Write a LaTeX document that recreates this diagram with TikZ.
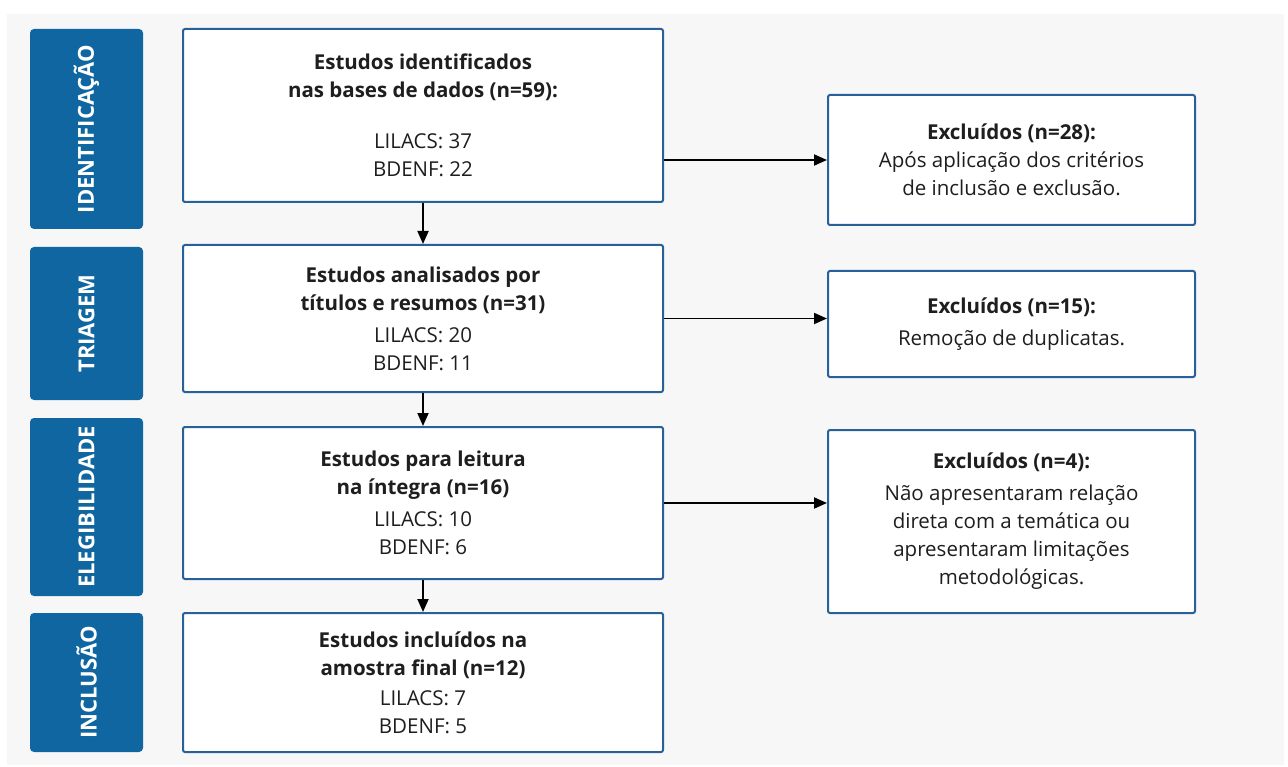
\documentclass[tikz,border=0pt]{standalone}
\usepackage{fontspec}
\setmainfont{Open Sans}
\usepackage{tikz}
\usetikzlibrary{arrows.meta}
\definecolor{barblue}{RGB}{16,102,160}
\definecolor{lineblue}{RGB}{40,96,152}
\definecolor{panel}{RGB}{247,247,247}
\definecolor{ink}{RGB}{30,30,30}

\begin{document}
\begin{tikzpicture}[x=1pt, y=-1pt,
    every node/.style={font=\fontsize{20.5}{28}\selectfont, text=ink, align=center, inner sep=0pt},
    phase/.style={fill=barblue, rounded corners=4pt, minimum height=113pt, text=white, rotate=90, font=\fontsize{22}{26}\selectfont\bfseries},
    mainbox/.style={draw=lineblue, line width=2pt, fill=white, rounded corners=2pt, minimum width=480pt},
    exbox/.style={draw=lineblue, line width=2pt, fill=white, rounded corners=2pt, minimum width=367pt},
    arr/.style={line width=1.8pt, -{Triangle[length=13pt, width=11pt]}}]
        \useasboundingbox (0,0) rectangle (1288,767);
        \fill[panel] (7,14) rectangle (1284,765);
        \node[phase, minimum width=200pt] (b1) at (86.5,129) {IDENTIFICAÇÃO};
        \node[phase, minimum width=153pt] (b2) at (86.5,323.5) {TRIAGEM};
        \node[phase, minimum width=178pt] (b3) at (86.5,507) {ELEGIBILIDADE};
        \node[phase, minimum width=139pt] (b4) at (86.5,682.5) {INCLUSÃO};
        \node[mainbox, minimum height=173pt] (m1) at (423,115.5) {\textbf{Estudos identificados}\\\textbf{nas bases de dados (n=59):}\\[23pt]LILACS: 37\\BDENF: 22};
        \node[mainbox, minimum height=147pt] (m2) at (423,318.5) {\textbf{Estudos analisados por}\\\textbf{títulos e resumos (n=31)}\\[4pt]LILACS: 20\\BDENF: 11};
        \node[mainbox, minimum height=152pt] (m3) at (423,503) {\textbf{Estudos para leitura}\\\textbf{na íntegra (n=16)}\\[4pt]LILACS: 10\\BDENF: 6};
        \node[mainbox, minimum height=139pt] (m4) at (423,682.5) {\textbf{Estudos incluídos na}\\\textbf{amostra final (n=12)}\\[2pt]LILACS: 7\\BDENF: 5};
        \node[exbox, minimum height=130pt] (x1) at (1011.5,160) {\textbf{Excluídos (n=28):}\\Após aplicação dos critérios\\de inclusão e exclusão.};
        \node[exbox, minimum height=106pt] (x2) at (1011.5,324) {\textbf{Excluídos (n=15):}\\[4pt]Remoção de duplicatas.};
        \node[exbox, minimum height=183pt] (x3) at (1011.5,521.5) {\textbf{Excluídos (n=4):}\\[4pt]Não apresentaram relação\\direta com a temática ou\\apresentaram limitações\\metodológicas.};
        \draw[arr] (m1) -- (m2);
        \draw[arr] (m2) -- (m3);
        \draw[arr] (m3) -- (m4);
        \draw[arr] (m1.east |- x1.west) -- (x1.west);
        \draw[arr] (m2.east) -- (m2.east -| x2.west);
        \draw[arr] (m3.east) -- (m3.east -| x3.west);
      \end{tikzpicture}
\end{document}
